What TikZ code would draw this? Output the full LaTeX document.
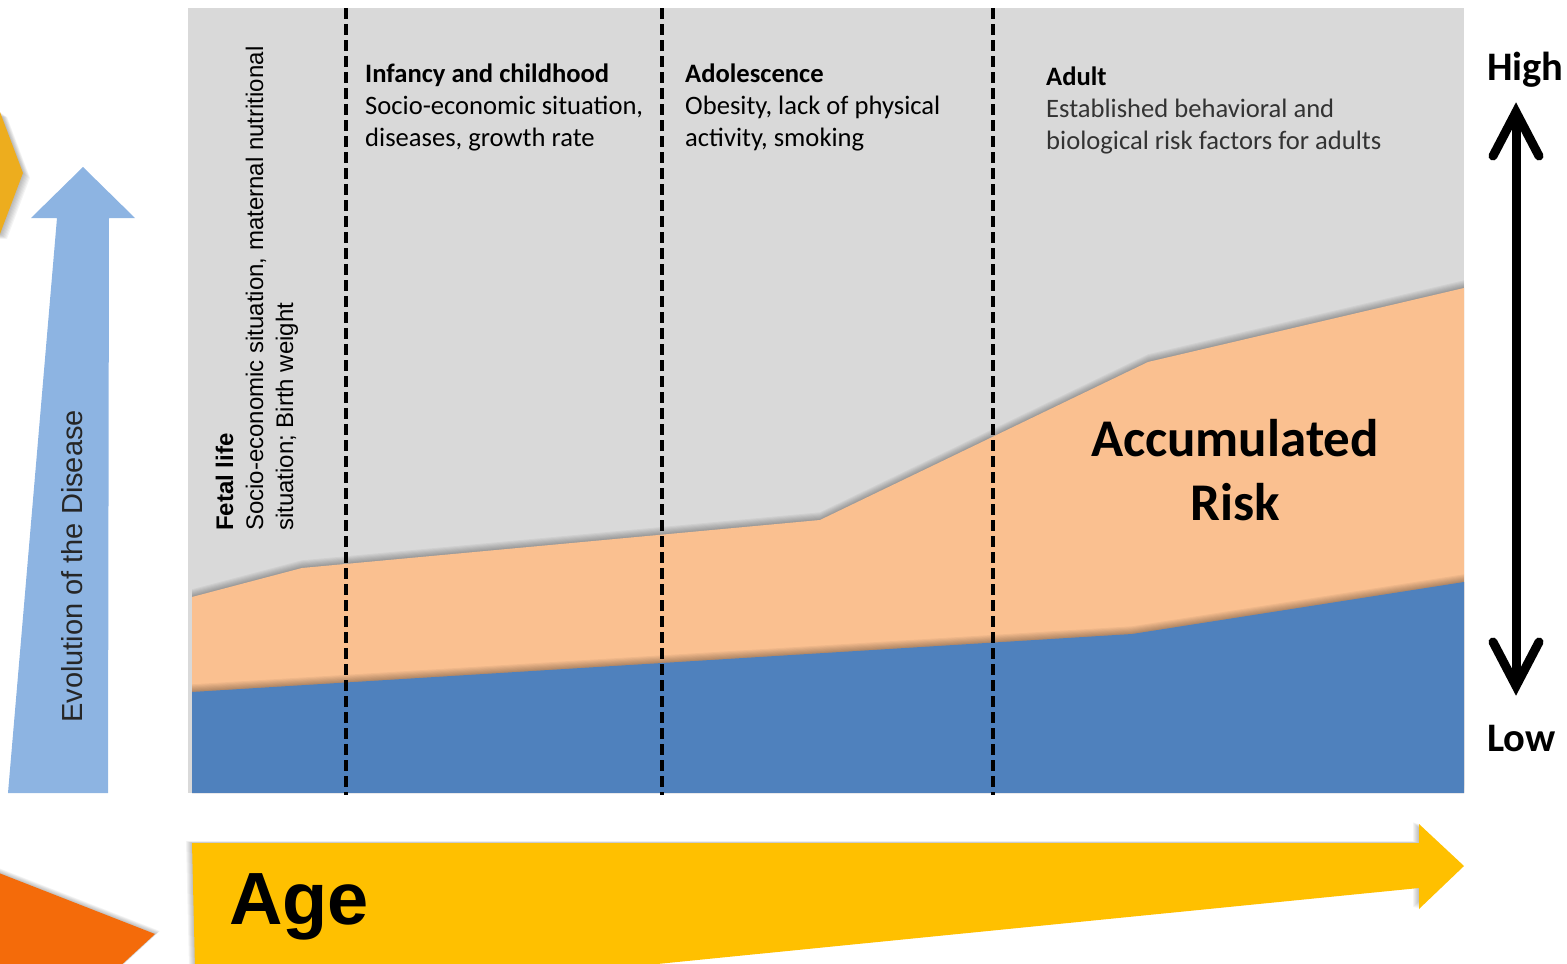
\documentclass[tikz,border=0pt]{standalone}
\usepackage{fontspec}
\setmainfont{Carlito}
\newfontfamily\arialf{Liberation Sans}
\definecolor{panelgray}{HTML}{D9D9D9}
\definecolor{riskorange}{HTML}{FAC090}
\definecolor{baseblue}{HTML}{4F81BD}
\definecolor{lightblue}{HTML}{8DB4E2}
\definecolor{ageyellow}{HTML}{FFC000}
\definecolor{goldshape}{HTML}{EDAD1E}
\definecolor{orangeshape}{HTML}{F46B0A}
\tikzset{
  hdr/.style={anchor=base west, inner sep=0pt, align=left, font=\fontsize{26.6}{31.7}\selectfont},
  fetal/.style={anchor=base west, inner sep=0pt, align=left, rotate=90, font=\arialf\fontsize{24}{30}\selectfont},
  divider/.style={line width=4pt, dash pattern=on 11pt off 5pt, black},
  bigarrow/.style={line width=9pt, black},
  shadowfill/.style={fill=black, opacity=0.045},
  scaletxt/.style={anchor=base west, inner sep=0pt, font=\bfseries\fontsize{40.5}{42}\selectfont}
}
\begin{document}
\begin{tikzpicture}[x=1pt,y=-1pt]
\useasboundingbox (0,0) rectangle (1567,964);
\clip (0,0) rectangle (1567,964);
% gold pentagon (left top, cut)
\foreach \k in {1,...,7} {
  \fill[shadowfill, xshift=\k*1.0pt, yshift=-\k*0.7pt] (-60,112) -- (0,112) -- (23,173) -- (0,234) -- (-60,234) -- cycle;
}
\fill[goldshape] (-60,112) -- (0,112) -- (23,173) -- (0,234) -- (-60,234) -- cycle;
% orange shape (left bottom, cut)
\foreach \k in {1,...,6} {
  \fill[shadowfill, xshift=\k*0.8pt, yshift=\k*0.5pt] (-60,850) -- (155,934) -- (80,1003) -- (-60,1003) -- cycle;
}
\fill[orangeshape] (-60,850) -- (155,934) -- (80,1003) -- (-60,1003) -- cycle;
% light blue up arrow
\fill[lightblue] (83,167) -- (135,218) -- (109,218) -- (108,793) -- (8,793) -- (57,218) -- (31,218) -- cycle;
\node[fetal, font=\arialf\fontsize{29}{35}\selectfont, text=black!85] (evol) at (82,723) {Evolution of the Disease};
% panel
\fill[panelgray] (188,8) rectangle (1464,793);
% orange accumulated area with shadow
\foreach \k in {1,...,7} {
  \fill[shadowfill, yshift=\k*1.1pt] (192,597) -- (302,568) -- (820,520) -- (1148,362) -- (1464,288) -- (1464,793) -- (192,793) -- cycle;
}
\fill[riskorange] (192,597) -- (302,568) -- (820,520) -- (1148,362) -- (1464,288) -- (1464,793) -- (192,793) -- cycle;
% blue base area with shadow
\foreach \k in {1,...,7} {
  \fill[shadowfill, yshift=\k*1.1pt] (192,692) -- (1132,634) -- (1464,582) -- (1464,793) -- (192,793) -- cycle;
}
\fill[baseblue] (192,692) -- (1132,634) -- (1464,582) -- (1464,793) -- (192,793) -- cycle;
% dividers
\coordinate (d1t) at (346,8);  \coordinate (d1b) at (346,795);
\coordinate (d2t) at (662,8);  \coordinate (d2b) at (662,795);
\coordinate (d3t) at (993,8);  \coordinate (d3b) at (993,795);
\draw[divider] (d1t) -- (d1b);
\draw[divider] (d2t) -- (d2b);
\draw[divider] (d3t) -- (d3b);
% stage texts (anchor = baseline of last line)
\node[fetal] (fetal) at (293,531) {\textbf{Fetal life}\\Socio-economic situation, maternal nutritional\\situation; Birth weight};
\node[hdr] (infancy) at (365,146) {\textbf{Infancy and childhood}\\Socio-economic situation,\\diseases, growth rate};
\node[hdr] (adol) at (685,146) {\textbf{Adolescence}\\Obesity, lack of physical\\activity, smoking};
\node[hdr] (adult) at (1046,149) {\textbf{Adult}\\\textcolor{black!80}{Established behavioral and}\\\textcolor{black!80}{biological risk factors for adults}};
\node[anchor=base, inner sep=0pt, align=center, font=\bfseries\fontsize{53}{64}\selectfont] (risk) at (1235,520) {Accumulated\\Risk};
% Age arrow
\foreach \k in {1,...,6} {
  \fill[shadowfill, xshift=-\k*1.0pt, yshift=\k*0.3pt] (192,843) -- (1419,843) -- (1419,824) -- (1464,866) -- (1419,909) -- (1419,888) -- (196,1010) -- cycle;
}
\fill[ageyellow] (192,843) -- (1419,843) -- (1419,824) -- (1464,866) -- (1419,909) -- (1419,888) -- (196,1010) -- cycle;
\node[anchor=base west, inner sep=0pt, font=\arialf\bfseries\fontsize{74}{80}\selectfont] (age) at (229,924) {Age};
% High / Low scale
\node[scaletxt] (high) at (1487,80) {High};
\node[scaletxt] (low) at (1487,751) {Low};
\coordinate (hiTip) at (1516,112);
\coordinate (loTip) at (1516,686);
\draw[bigarrow, line cap=butt] (hiTip) -- (loTip);
\draw[bigarrow, line cap=round, line join=miter] ([xshift=-23pt,yshift=-44pt]hiTip) -- (hiTip) -- ([xshift=23pt,yshift=-44pt]hiTip);
\draw[bigarrow, line cap=round, line join=miter] ([xshift=-23pt,yshift=44pt]loTip) -- (loTip) -- ([xshift=23pt,yshift=44pt]loTip);
\end{tikzpicture}
\end{document}
